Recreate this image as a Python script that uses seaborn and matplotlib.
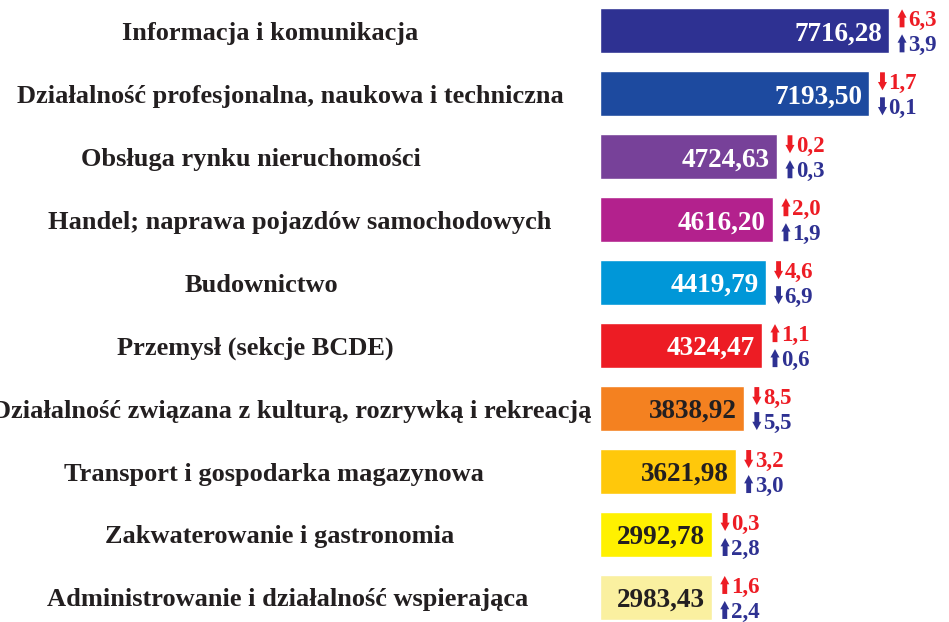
import numpy as np
import pandas as pd
import matplotlib
matplotlib.use("Agg")
import matplotlib.pyplot as plt
import matplotlib.transforms as mtrans
import seaborn as sns

sns.set_style("white")
plt.rcParams['font.family'] = ['Liberation Serif', 'DejaVu Sans']

categories = [
    "Informacja i komunikacja",
    "Działalność profesjonalna, naukowa i techniczna",
    "Obsługa rynku nieruchomości",
    "Handel; naprawa pojazdów samochodowych",
    "Budownictwo",
    "Przemysł (sekcje BCDE)",
    "Działalność związana z kulturą, rozrywką i rekreacją",
    "Transport i gospodarka magazynowa",
    "Zakwaterowanie i gastronomia",
    "Administrowanie i działalność wspierająca",
]
wages = [7716.28, 7193.50, 4724.63, 4616.20, 4419.79,
         4324.47, 3838.92, 3621.98, 2992.78, 2983.43]
change_red = [6.3, -1.7, -0.2, 2.0, -4.6, 1.1, -8.5, -3.2, -0.3, 1.6]
change_blue = [3.9, -0.1, 0.3, 1.9, -6.9, 0.6, -5.5, 3.0, 2.8, 2.4]
bar_colors = ["#2e3192", "#1d4a9f", "#774199", "#b3218d", "#0097d8",
              "#ed1c24", "#f48120", "#ffc80b", "#fff100", "#faf0a0"]
value_colors = ["white"] * 6 + ["#231f20"] * 4

# label centres in pixels (layout only)
label_cx = [270, 290, 251, 300, 261, 255, 292, 274, 280, 288]

df = pd.DataFrame({"kategoria": categories, "wynagrodzenie": wages})

W, H = 949, 622
fig = plt.figure(figsize=(W / 100, H / 100), dpi=100)
x0 = 600
ax = fig.add_axes([x0 / W, 0, (W - x0) / W, 1])
sns.barplot(data=df, x="wynagrodzenie", y="kategoria", hue="kategoria",
            palette=bar_colors, legend=False, saturation=1, width=0.715, ax=ax)
px_per_unit = 0.03746
ax.set_xlim(0, (W - x0) / px_per_unit)
ax.set_ylim(9.39, -0.49)
ax.axis("off")

dark = "#231f20"
red = "#ed1c24"
blue = "#2e3192"
label_tr = mtrans.blended_transform_factory(fig.transFigure, ax.transData)


def off(dx, dy):
    return mtrans.offset_copy(ax.transData, fig=fig, x=dx, y=dy, units='dots')


def fmt(v):
    return f"{abs(v):.1f}".replace(".", ",")


for i, (cat, w) in enumerate(zip(categories, wages)):
    # category label on the left
    fig.text(label_cx[i] / W, i, cat, transform=label_tr,
             ha="center", va="center_baseline", fontsize=19, fontweight="bold", color=dark)
    # value inside the bar
    ax.text(w, i, f"{w:.2f}".replace(".", ","), transform=off(-7, 0),
            ha="right", va="center_baseline", fontsize=19.5, fontweight="bold",
            color=value_colors[i])
    for ch, col, dy in ((change_red[i], red, 12.5), (change_blue[i], blue, -12.5)):
        s = 1 if ch > 0 else -1
        ax.annotate("", xy=(w, i), xycoords=off(13, dy + 9 * s),
                    xytext=(w, i), textcoords=off(13, dy - 9 * s),
                    arrowprops=dict(arrowstyle="simple,head_length=0.6,head_width=0.65,tail_width=0.35",
                                    color=col, shrinkA=0, shrinkB=0, lw=0))
        ax.text(w, i, fmt(ch), transform=off(19, dy), ha="left", va="center_baseline",
                fontsize=16.5, fontweight="bold", color=col)

fig.savefig("out.png", dpi=100)
